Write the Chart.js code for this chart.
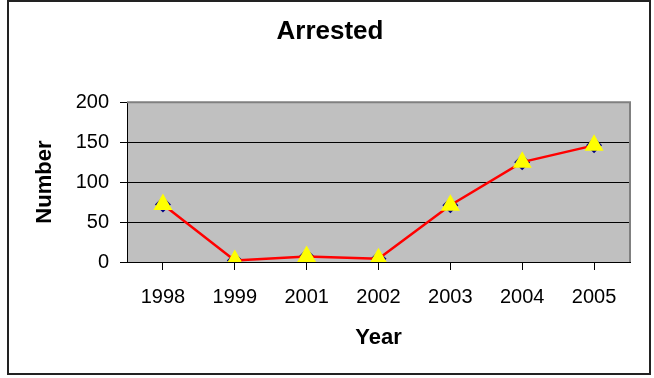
<!DOCTYPE html>
<html>
<head>
<meta charset="utf-8">
<script src="https://cdn.jsdelivr.net/npm/chart.js"></script>
<style>
  body { margin: 0; background: #fff; }
  #wrap { width: 654px; height: 378px; position: relative; }
</style>
</head>
<body>
<div id="wrap"><canvas id="arrestChart"></canvas></div>
<script>
const years = ["1998", "1999", "2001", "2002", "2003", "2004", "2005"];
const arrested = [72, 2, 7, 4, 71, 125, 146];
const yTicks = [0, 50, 100, 150, 200];

const font = "'Liberation Sans', Arial, sans-serif";

// grey plot area + frame round the whole chart, like the old Excel look
const frame = {
  id: "frame",
  beforeDraw(chart) {
    const { ctx, chartArea: a } = chart;
    ctx.save();
    ctx.fillStyle = "#c0c0c0";
    ctx.fillRect(a.left, a.top, a.right - a.left, a.bottom - a.top);
    ctx.restore();
  },
  beforeDatasetsDraw(chart) {
    const { ctx, chartArea: a } = chart;
    ctx.save();
    ctx.strokeStyle = "#808080";
    ctx.lineWidth = 2;
    ctx.beginPath();
    ctx.moveTo(a.left, a.top);
    ctx.lineTo(a.right, a.top);
    ctx.lineTo(a.right, a.bottom);
    ctx.stroke();
    ctx.restore();
  },
  afterDraw(chart) {
    const ctx = chart.ctx;
    ctx.save();
    ctx.strokeStyle = "#222";
    ctx.lineWidth = 2;
    ctx.strokeRect(8, 1, 642, 373);
    ctx.restore();
  }
};

new Chart("arrestChart", {
  type: "line",
  data: {
    labels: years,
    datasets: [{
      data: arrested,
      borderColor: "#ff0000",
      borderWidth: 2.5,
      pointStyle: "triangle",
      pointRadius: 11,
      pointBackgroundColor: "#ffff00",
      pointBorderColor: "#ffff00",
      pointBorderWidth: 0,
      tension: 0,
      order: 1
    }, {
      data: arrested,
      showLine: false,
      pointStyle: "rectRot",
      pointRadius: 8,
      pointBackgroundColor: "#000080",
      pointBorderColor: "#000080",
      pointBorderWidth: 0,
      order: 2
    }]
  },
  options: {
    responsive: true,
    maintainAspectRatio: false,
    animation: false,
    layout: { padding: { left: 30, right: 24, top: 0, bottom: 16 } },
    plugins: {
      legend: { display: false },
      tooltip: { enabled: false },
      title: {
        display: true,
        text: "Arrested",
        color: "#000",
        font: { family: font, size: 26, weight: "bold" },
        padding: { top: 16, bottom: 55 }
      }
    },
    scales: {
      x: {
        offset: true,
        grid: { drawOnChartArea: false, drawTicks: true, tickLength: 8, color: "#000" },
        border: { color: "#000", width: 1 },
        ticks: { color: "#000", font: { family: font, size: 20 }, padding: 15, maxRotation: 0, autoSkip: false },
        title: {
          display: true,
          text: "Year",
          color: "#000",
          font: { family: font, size: 22, weight: "bold" },
          padding: { top: 0, bottom: 11 }
        },
        afterFit(s) { s.height = 100; }
      },
      y: {
        min: yTicks[0],
        max: yTicks[yTicks.length - 1],
        grid: { color: "#000", tickLength: 7 },
        border: { color: "#000", width: 1 },
        ticks: { stepSize: 50, color: "#000", font: { family: font, size: 20 }, padding: 11 },
        title: {
          display: true,
          text: "Number",
          color: "#000",
          font: { family: font, size: 22, weight: "bold" },
          padding: { top: 2, bottom: 0 }
        },
        afterFit(s) { s.width = 97; }
      }
    }
  },
  plugins: [frame]
});
</script>
</body>
</html>
